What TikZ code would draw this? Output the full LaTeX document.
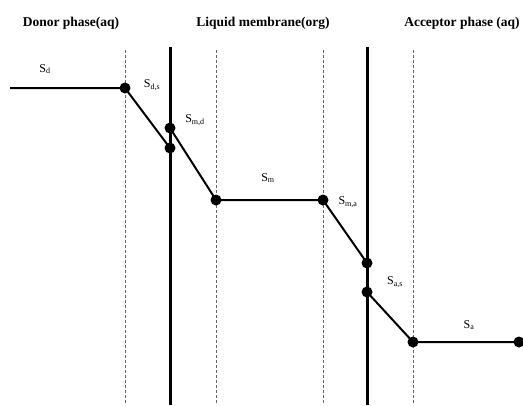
\documentclass[tikz,border=0pt]{standalone}
\usepackage{fontspec}
\setmainfont{Liberation Serif}

\begin{document}
\begin{tikzpicture}[x=1pt,y=-1pt,
  dot/.style={circle,fill=black,inner sep=0pt,minimum size=11pt},
  profile/.style={line width=2pt},
  wall/.style={line width=3pt},
  guide/.style={gray!80!black,line width=1pt,dash pattern=on 3pt off 2pt},
  head/.style={font=\bfseries\fontsize{13.5}{15}\selectfont},
  lab/.style={font=\fontsize{12}{14}\selectfont}]
  \useasboundingbox (0,0) rectangle (523,405);

  \draw[guide] (125,50) -- (125,405);
  \draw[guide] (216,50) -- (216,405);
  \draw[guide] (323,50) -- (323,405);
  \draw[guide] (413,50) -- (413,405);

  \draw[wall] (170,47) -- (170,405);
  \draw[wall] (367,47) -- (367,405);

  \node[head] (donor) at (71,23) {Donor phase(aq)};
  \node[head] (membrane) at (263,23) {Liquid membrane(org)};
  \node[head] (acceptor) at (462,23) {Acceptor phase (aq)};

  \coordinate (start) at (10,88);
  \node[dot] (ds) at (125,88) {};
  \node[dot] (dm) at (170,148) {};
  \node[dot] (md) at (170,128) {};
  \node[dot] (mleft) at (216,200) {};
  \node[dot] (ma) at (323,200) {};
  \node[dot] (am) at (367,263) {};
  \node[dot] (as) at (367,292) {};
  \node[dot] (aright) at (413,342) {};
  \node[dot] (aend) at (519,342) {};

  \draw[profile] (start) -- (ds.center) -- (dm.center);
  \draw[profile] (md.center) -- (mleft.center) -- (ma.center) -- (am.center);
  \draw[profile] (as.center) -- (aright.center) -- (aend.center);

  \node[lab] (Sd) at (45,69) {S\textsubscript{d}};
  \node[lab] (Sds) at (152,85) {S\textsubscript{d,s}};
  \node[lab] (Smd) at (195,120) {S\textsubscript{m,d}};
  \node[lab] (Sm) at (268,178) {S\textsubscript{m}};
  \node[lab] (Sma) at (348,202) {S\textsubscript{m,a}};
  \node[lab] (Sas) at (395,282) {S\textsubscript{a,s}};
  \node[lab] (Sa) at (469,325) {S\textsubscript{a}};
\end{tikzpicture}
\end{document}
